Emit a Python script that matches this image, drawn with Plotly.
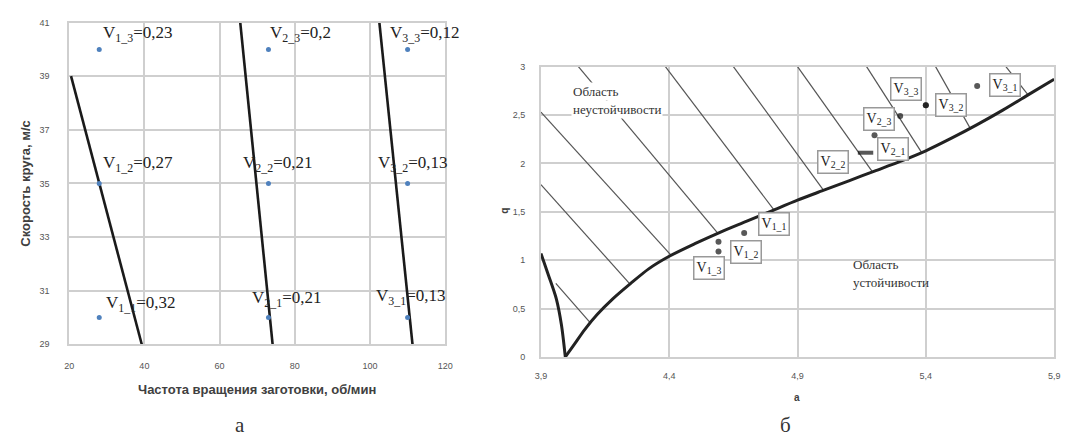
import numpy as np
import plotly.graph_objects as go

W, H = 1073, 446

# ---------------- left panel data ----------------
freq_pts = [28, 28, 28, 73, 73, 73, 110, 110, 110]
speed_pts = [30, 35, 40, 30, 35, 40, 30, 35, 40]
left_labels = ["V<sub>1_1</sub>=0,32", "V<sub>1_2</sub>=0,27", "V<sub>1_3</sub>=0,23",
               "V<sub>2_1</sub>=0,21", "V<sub>2_2</sub>=0,21", "V<sub>2_3</sub>=0,2",
               "V<sub>3_1</sub>=0,13", "V<sub>3_2</sub>=0,13", "V<sub>3_3</sub>=0,12"]
bound1_n = [20.5, 39.3]
bound1_v = [39, 29]
bound2_n = [65.5, 74.1]
bound2_v = [41, 29]
bound3_n = [102.5, 111.3]
bound3_v = [41, 29]
left_xticks = [20, 40, 60, 80, 100, 120]
left_yticks = [29, 31, 33, 35, 37, 39, 41]

# ---------------- right panel data ----------------
left_branch_a = [3.90, 3.93, 3.96, 3.98, 3.995]
left_branch_q = [1.07, 0.84, 0.60, 0.33, 0.0]
right_branch_a = [3.995, 4.03, 4.07, 4.12, 4.18, 4.25, 4.32, 4.40, 4.50, 4.60, 4.70, 4.80, 4.90,
                  5.00, 5.10, 5.20, 5.30, 5.40, 5.50, 5.60, 5.70, 5.80, 5.90]
right_branch_q = [0.00, 0.13, 0.28, 0.44, 0.60, 0.76, 0.91, 1.04, 1.17, 1.29, 1.40, 1.51, 1.62,
                  1.72, 1.82, 1.92, 2.02, 2.13, 2.26, 2.40, 2.55, 2.71, 2.87]

# hatch lines: start point and a second point giving the direction (clipped at the boundary curve)
hatch_a0 = [3.958, 3.90, 3.90, 4.046, 4.385, 4.65, 4.90, 5.169, 5.438, 5.712]
hatch_q0 = [0.76, 1.78, 2.53, 3.0, 3.0, 3.0, 3.0, 3.0, 3.0, 3.0]
hatch_a1 = [4.092, 4.238, 4.404, 4.573, 4.785, 4.98, 5.19, 5.377, 5.565, 5.777]
hatch_q1 = [0.354, 0.78, 1.06, 1.33, 1.60, 1.80, 1.92, 2.14, 2.40, 2.78]

pt_names = ["V<sub>1_1</sub>", "V<sub>1_2</sub>", "V<sub>1_3</sub>",
            "V<sub>2_1</sub>", "V<sub>2_2</sub>", "V<sub>2_3</sub>",
            "V<sub>3_1</sub>", "V<sub>3_2</sub>", "V<sub>3_3</sub>"]
pt_a = [4.692, 4.592, 4.592, 5.20, 5.165, 5.30, 5.60, 5.40, 5.40]
pt_q = [1.28, 1.19, 1.09, 2.29, 2.11, 2.49, 2.80, 2.60, 2.60]
right_xticks = [3.9, 4.4, 4.9, 5.4, 5.9]
right_xtext = ["3,9", "4,4", "4,9", "5,4", "5,9"]
right_yticks = [0, 0.5, 1, 1.5, 2, 2.5, 3]
right_ytext = ["0", "0,5", "1", "1,5", "2", "2,5", "3"]

# ---------------- styles ----------------
GRID = "#cfcfcf"
TICKFONT = dict(family="Liberation Sans", size=9, color="#555555")
# label offsets (px) relative to their point: left panel (text start), right panel (box centre)
left_off = [(5, 13), (2, 19), (2, 15), (-18, 18), (-27, 19), (0, 15), (-34, 20), (-32, 19), (-20, 15)]
right_off = [(30, 9), (28, -10), (-9, -17), (18, -14), (-33, -9), (-21, -3), (28, 1), (25, 0), (-20, 16)]

fig = go.Figure()

# left boundaries
for bn, bv in [(bound1_n, bound1_v), (bound2_n, bound2_v), (bound3_n, bound3_v)]:
    fig.add_trace(go.Scatter(x=bn, y=bv, mode="lines", line=dict(color="#1a1a1a", width=2.6),
                             xaxis="x", yaxis="y", showlegend=False, hoverinfo="skip"))
fig.add_trace(go.Scatter(x=freq_pts, y=speed_pts, mode="markers",
                         marker=dict(color="#4f81bd", size=5), xaxis="x", yaxis="y", showlegend=False))


# right hatch lines, clipped at the boundary curve
def curve_q(a):
    return np.interp(a, right_branch_a, right_branch_q)


for a0, q0, a1, q1 in zip(hatch_a0, hatch_q0, hatch_a1, hatch_q1):
    t = np.linspace(0, 1.6, 800)
    aa = a0 + (a1 - a0) * t
    qq = q0 + (q1 - q0) * t
    below = np.where((qq <= curve_q(aa)) & (aa >= 3.995))[0]
    k = below[0] if len(below) else len(t) - 1
    fig.add_trace(go.Scatter(x=[a0, aa[k]], y=[q0, qq[k]], mode="lines", line=dict(color="#555555", width=1.2),
                             xaxis="x2", yaxis="y2", showlegend=False, hoverinfo="skip"))
# stability boundary
fig.add_trace(go.Scatter(x=left_branch_a, y=left_branch_q, mode="lines",
                         line=dict(color="#222222", width=3, shape="spline", smoothing=0.8),
                         xaxis="x2", yaxis="y2", showlegend=False))
fig.add_trace(go.Scatter(x=right_branch_a, y=right_branch_q, mode="lines",
                         line=dict(color="#222222", width=3, shape="spline", smoothing=0.8),
                         xaxis="x2", yaxis="y2", showlegend=False))
symbols = ["circle"] * len(pt_a)
sizes = [6] * len(pt_a)
lw = [0] * len(pt_a)
symbols[4] = "line-ew"
sizes[4] = 11
lw[4] = 4
fig.add_trace(go.Scatter(x=pt_a, y=pt_q, mode="markers",
                         marker=dict(color="#111111", size=sizes, symbol=symbols,
                                     line=dict(color="#111111", width=lw)),
                         xaxis="x2", yaxis="y2", showlegend=False))

ann = []
for xn, yv, t, (dx, dy) in zip(freq_pts, speed_pts, left_labels, left_off):
    ann.append(dict(x=xn, y=yv, xref="x", yref="y", text=t, showarrow=False,
                    xanchor="left", yanchor="middle", xshift=dx, yshift=dy,
                    font=dict(family="Liberation Serif", size=17, color="#222222")))
for xa, yq, t, (dx, dy) in zip(pt_a, pt_q, pt_names, right_off):
    ann.append(dict(x=xa, y=yq, xref="x2", yref="y2", text=t, showarrow=False,
                    xanchor="center", yanchor="middle", xshift=dx, yshift=dy,
                    bgcolor="white", bordercolor="#999999", borderwidth=1.5, borderpad=2,
                    font=dict(family="Liberation Serif", size=14, color="#222222")))


def P(px, py):
    return px / W, 1 - py / H


def txt(px, py, text, size, family, bold=False, angle=0, xanchor="center", bg=None, color="#333333"):
    x, y = P(px, py)
    d = dict(x=x, y=y, xref="paper", yref="paper", text=("<b>%s</b>" % text) if bold else text,
             showarrow=False, xanchor=xanchor, yanchor="middle", textangle=angle,
             font=dict(family=family, size=size, color=color))
    if bg:
        d.update(bgcolor=bg, borderpad=1)
    ann.append(d)


txt(20, 183, "Скорость круга, м/с", 13, "Liberation Sans", bold=True, angle=-90, color="#404040")
txt(254, 393, "Частота вращения заготовки, об/мин", 13, "Liberation Sans", bold=True, color="#404040")
txt(237, 430, "а", 21, "Liberation Serif", color="#333333")
txt(790, 430, "б", 21, "Liberation Serif", color="#333333")
txt(801, 402, "a", 10, "Liberation Sans", bold=True, color="#404040")
txt(505, 210, "q", 10, "Liberation Sans", bold=True, angle=-90, color="#404040")
txt(572, 88, "Область", 13, "Liberation Serif", xanchor="left", bg="white")
txt(572, 107, "неустойчивости", 13, "Liberation Serif", xanchor="left", bg="white")
txt(856, 265, "Область", 13, "Liberation Serif", xanchor="left")
txt(856, 284, "устойчивости", 13, "Liberation Serif", xanchor="left")

axis_common = dict(showgrid=True, gridcolor=GRID, gridwidth=1.5, showline=True, linecolor=GRID,
                   linewidth=1.5, mirror=True, zeroline=False, ticks="", tickfont=TICKFONT)

fig.update_layout(
    width=W, height=H, margin=dict(l=0, r=0, t=0, b=0),
    paper_bgcolor="white", plot_bgcolor="white", showlegend=False,
    xaxis=dict(domain=[64 / W, 445 / W], range=[20, 120], tickvals=left_xticks, anchor="y",
               ticklabelstandoff=12, **axis_common),
    yaxis=dict(domain=[1 - 347 / H, 1 - 18 / H], range=[29, 41], tickvals=left_yticks, anchor="x",
               ticklabelstandoff=16, **axis_common),
    xaxis2=dict(domain=[542 / W, 1062 / W], range=[3.9, 5.9], tickvals=right_xticks, ticktext=right_xtext,
                anchor="y2", ticklabelstandoff=10, **axis_common),
    yaxis2=dict(domain=[1 - 360 / H, 1 - 63 / H], range=[0, 3], tickvals=right_yticks, ticktext=right_ytext,
                anchor="x2", ticklabelstandoff=12, **axis_common),
    annotations=ann,
)

fig.write_html("out.html")
